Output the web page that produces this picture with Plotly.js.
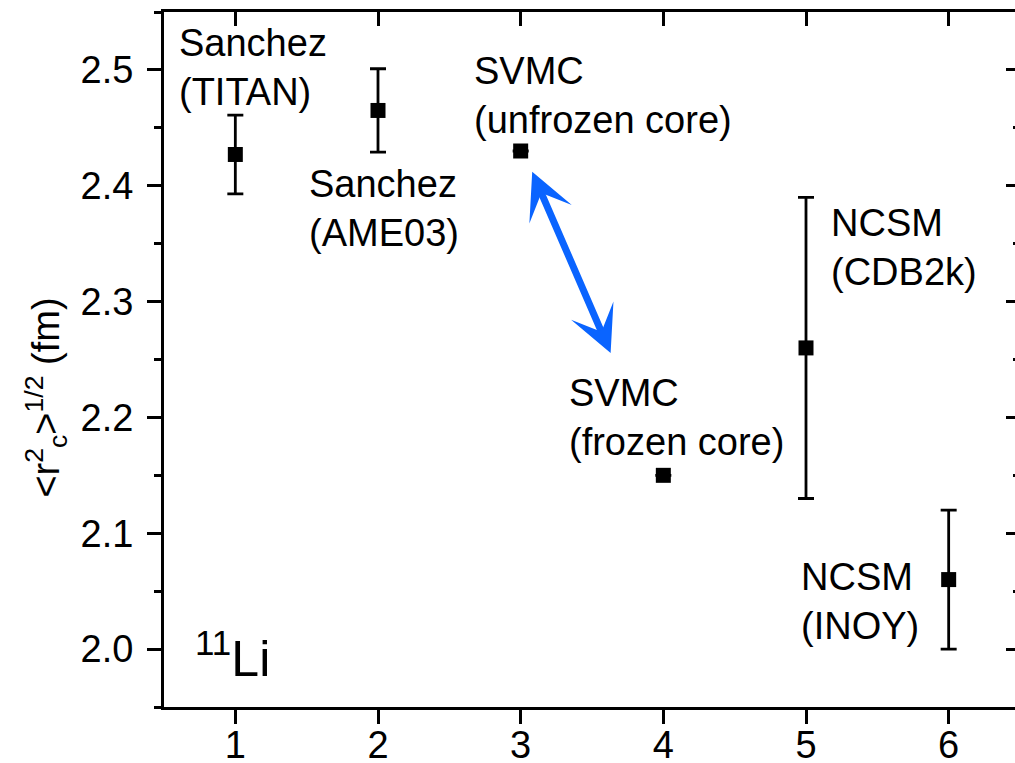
<!DOCTYPE html>
<html>
<head>
<meta charset="utf-8">
<script src="https://cdn.plot.ly/plotly-3.0.1.min.js"></script>
<style>
html,body{margin:0;padding:0;overflow:hidden;background:#fff;}
#chart{width:1021px;height:763px;}
</style>
</head>
<body>
<div id="chart"></div>
<script>
// ---- data ----
var xIndex = [1, 2, 3, 4, 5, 6];
var radius = [2.427, 2.465, 2.430, 2.150, 2.260, 2.060];
var radiusErr = [0.034, 0.036, null, null, 0.130, 0.060];
var labels = [
  'Sanchez<br>(TITAN)',
  'Sanchez<br>(AME03)',
  'SVMC<br>(unfrozen core)',
  'SVMC<br>(frozen core)',
  'NCSM<br>(CDB2k)',
  'NCSM<br>(INOY)'
];
var xTicks = [1, 2, 3, 4, 5, 6];
var yTicks = [2.0, 2.1, 2.2, 2.3, 2.4, 2.5];
var nucleus = '<sup>11</sup>Li';
var yTitle = '&lt;r<sup>2</sup><sub>c</sub>&gt;<sup>1/2</sup> (fm)';

// ---- styling / layout ----
var FONT = 'Liberation Sans, Arial, Helvetica, sans-serif';
var FS = 38;
var labelPos = [
  {x: 0.594, y: 2.502},
  {x: 1.500, y: 2.380},
  {x: 2.661, y: 2.478},
  {x: 3.327, y: 2.200},
  {x: 5.160, y: 2.347},
  {x: 4.952, y: 2.041}
];

var trace = {
  x: xIndex, y: radius,
  type: 'scatter', mode: 'markers',
  marker: {symbol: 'square', size: 15, color: '#000'},
  error_y: {type: 'data', array: radiusErr, visible: true, color: '#000', thickness: 2.8, width: 8},
  showlegend: false, hoverinfo: 'x+y'
};
// invisible trace to activate mirror axes
var trace2 = {x: [1], y: [2.2], xaxis: 'x2', yaxis: 'y2', mode: 'markers',
  marker: {opacity: 0}, showlegend: false, hoverinfo: 'skip'};

var annotations = labels.map(function (t, i) {
  return {text: t, x: labelPos[i].x, y: labelPos[i].y, xref: 'x', yref: 'y',
    xanchor: 'left', yanchor: 'middle', align: 'left', showarrow: false,
    font: {family: FONT, size: FS, color: '#000'}};
});
annotations.push({text: nucleus, x: 0.70, y: 1.995, xref: 'x', yref: 'y',
  xanchor: 'left', yanchor: 'middle', showarrow: false,
  font: {family: FONT, size: 50, color: '#000'}});
annotations.push({text: yTitle, x: -0.138, y: 0.445, xref: 'paper', yref: 'paper',
  xanchor: 'center', yanchor: 'middle', textangle: -90, showarrow: false,
  font: {family: FONT, size: FS, color: '#000'}});
annotations.push({text: '', x: 3.081, y: 2.412, ax: 3.635, ay: 2.2543,
  xref: 'x', yref: 'y', axref: 'x', ayref: 'y', showarrow: true,
  arrowside: 'end+start', arrowhead: 3, startarrowhead: 3,
  arrowsize: 1.1, startarrowsize: 1.1, arrowwidth: 7, arrowcolor: '#0a64ff'});

var axCommon = {showgrid: false, zeroline: false, showline: true, linecolor: '#000',
  linewidth: 3, tickcolor: '#000', tickwidth: 3, ticklen: 14};

var layout = {
  width: 1021, height: 763,
  margin: {l: 164, r: 1, t: 12, b: 56, pad: 0},
  paper_bgcolor: '#fff', plot_bgcolor: '#fff',
  font: {family: FONT, size: FS, color: '#000'},
  xaxis: Object.assign({}, axCommon, {range: [0.5, 6.5], tickvals: xTicks, ticks: 'outside',
    tickfont: {family: FONT, size: FS}, ticklabelstandoff: -12}),
  xaxis2: Object.assign({}, axCommon, {range: [0.5, 6.5], tickvals: xTicks, ticks: 'inside',
    overlaying: 'x', side: 'top', showticklabels: false}),
  yaxis: Object.assign({}, axCommon, {range: [1.95, 2.55], tickvals: yTicks, ticks: 'outside',
    tickformat: '.1f', tickfont: {family: FONT, size: FS}, ticklabelstandoff: 6,
    minor: {ticks: 'outside', ticklen: 7, tickwidth: 3, dtick: 0.05, tick0: 2.0, tickcolor: '#000'}}),
  yaxis2: Object.assign({}, axCommon, {range: [1.95, 2.55], tickvals: yTicks, ticks: 'inside',
    overlaying: 'y', side: 'right', showticklabels: false,
    minor: {ticks: 'inside', ticklen: 7, tickwidth: 3, dtick: 0.05, tick0: 2.0, tickcolor: '#000'}}),
  annotations: annotations
};

Plotly.newPlot('chart', [trace, trace2], layout, {displayModeBar: false, staticPlot: true});
</script>
</body>
</html>
